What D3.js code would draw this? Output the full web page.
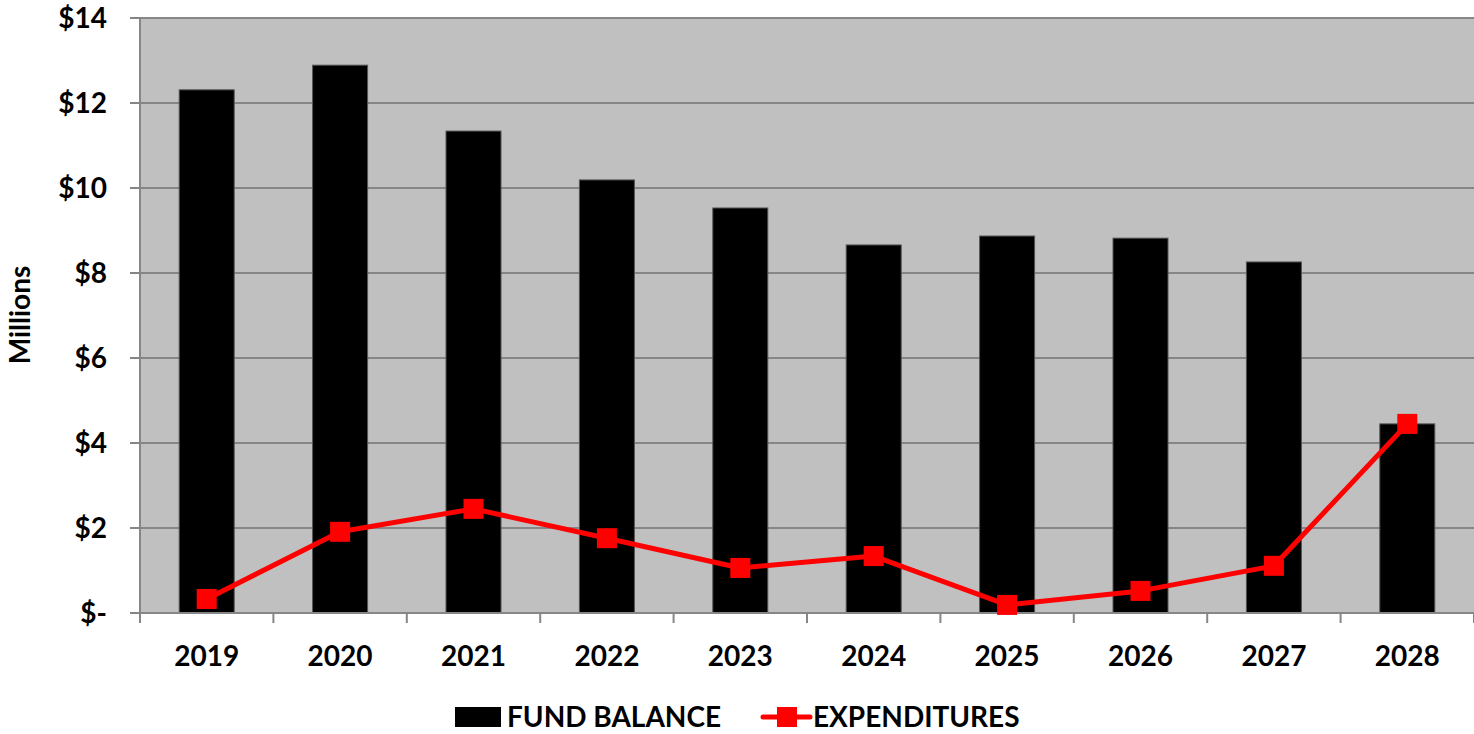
<!DOCTYPE html>
<html>
<head>
<meta charset="utf-8">
<script src="https://cdn.jsdelivr.net/npm/d3@7"></script>
<style>
  body { margin: 0; background: #fff; }
  text { font-family: Lato, "Open Sans", sans-serif; font-weight: bold; fill: #000; }
</style>
</head>
<body>
<div id="chart"></div>
<script>
// data (millions)
var years = ["2019", "2020", "2021", "2022", "2023", "2024", "2025", "2026", "2027", "2028"];
var fundBalance = [12.31, 12.89, 11.34, 10.19, 9.53, 8.66, 8.87, 8.82, 8.26, 4.45];
var expenditures = [0.33, 1.91, 2.45, 1.76, 1.06, 1.34, 0.19, 0.52, 1.11, 4.45];
var yTicks = [0, 2, 4, 6, 8, 10, 12, 14];

var margin = {top: 18, right: 0, bottom: 121, left: 140},
    width = 1474 - margin.left - margin.right,
    height = 734 - margin.top - margin.bottom;

var svg = d3.select("#chart")
    .append("svg")
    .attr("width", 1474)
    .attr("height", 734)
    .append("g")
    .attr("transform", "translate(" + margin.left + "," + margin.top + ")");

var x = d3.scaleBand()
    .domain(years)
    .range([0, width])
    .paddingInner(0)
    .paddingOuter(0);

var y = d3.scaleLinear()
    .domain([0, 14])
    .range([height, 0]);

// plot background
svg.append("rect")
    .attr("width", width)
    .attr("height", height)
    .attr("fill", "#c0c0c0");

// gridlines
svg.selectAll(".grid")
    .data(yTicks)
    .enter()
    .append("line")
    .attr("x1", -10)
    .attr("x2", width)
    .attr("y1", function(d) { return y(d); })
    .attr("y2", function(d) { return y(d); })
    .attr("stroke", "#868686")
    .attr("stroke-width", 2);

// left axis line
svg.append("line")
    .attr("x1", 0).attr("x2", 0)
    .attr("y1", 0).attr("y2", height)
    .attr("stroke", "#868686")
    .attr("stroke-width", 2);

// y labels
svg.selectAll(".ylab")
    .data(yTicks)
    .enter()
    .append("text")
    .attr("x", -33)
    .attr("y", function(d) { return y(d); })
    .attr("dy", "0.36em")
    .style("text-anchor", "end")
    .style("font-size", "28px")
    .text(function(d) { return d === 0 ? "$-" : "$" + d; });

// bars
var bw = 55;
svg.selectAll(".bar")
    .data(years)
    .enter()
    .append("rect")
    .attr("x", function(d) { return x(d) + x.bandwidth() / 2 - bw / 2; })
    .attr("y", function(d, i) { return y(fundBalance[i]); })
    .attr("width", bw)
    .attr("height", function(d, i) { return height - y(fundBalance[i]); })
    .attr("fill", "#000")
    .attr("stroke", "#555")
    .attr("stroke-width", 1);

// x axis
svg.append("line")
    .attr("x1", 0).attr("x2", width)
    .attr("y1", height).attr("y2", height)
    .attr("stroke", "#868686")
    .attr("stroke-width", 2);

var xTickPos = years.map(function(d) { return x(d); }).concat([width]);
svg.selectAll(".xtick")
    .data(xTickPos)
    .enter()
    .append("line")
    .attr("x1", function(d) { return d; })
    .attr("x2", function(d) { return d; })
    .attr("y1", height)
    .attr("y2", height + 10)
    .attr("stroke", "#868686")
    .attr("stroke-width", 2);

svg.selectAll(".xlab")
    .data(years)
    .enter()
    .append("text")
    .attr("x", function(d) { return x(d) + x.bandwidth() / 2; })
    .attr("y", height + 53)
    .style("text-anchor", "middle")
    .style("font-size", "28px")
    .text(function(d) { return d; });

// expenditures line
var line = d3.line()
    .x(function(d, i) { return x(years[i]) + x.bandwidth() / 2; })
    .y(function(d) { return y(d); });

svg.append("path")
    .datum(expenditures)
    .attr("d", line)
    .attr("fill", "none")
    .attr("stroke", "#ff0000")
    .attr("stroke-width", 5)
    .attr("stroke-linejoin", "round");

var ms = 20;
svg.selectAll(".marker")
    .data(expenditures)
    .enter()
    .append("rect")
    .attr("x", function(d, i) { return x(years[i]) + x.bandwidth() / 2 - ms / 2; })
    .attr("y", function(d) { return y(d) - ms / 2; })
    .attr("width", ms)
    .attr("height", ms)
    .attr("fill", "#ff0000");

// y axis title
svg.append("text")
    .attr("transform", "rotate(-90)")
    .attr("x", -297)
    .attr("y", -110)
    .style("text-anchor", "middle")
    .style("font-size", "28px")
    .text("Millions");

// legend
var root = d3.select("svg");
root.append("rect")
    .attr("x", 455).attr("y", 707)
    .attr("width", 46).attr("height", 20)
    .attr("fill", "#000");
root.append("text")
    .attr("x", 507).attr("y", 727)
    .style("font-size", "28px")
    .text("FUND BALANCE");

root.append("line")
    .attr("x1", 763).attr("x2", 810)
    .attr("y1", 717).attr("y2", 717)
    .attr("stroke", "#ff0000")
    .attr("stroke-width", 5)
    .attr("stroke-linecap", "round");
root.append("rect")
    .attr("x", 777).attr("y", 707)
    .attr("width", 20).attr("height", 20)
    .attr("fill", "#ff0000");
root.append("text")
    .attr("x", 813).attr("y", 727)
    .style("font-size", "28px")
    .text("EXPENDITURES");
</script>
</body>
</html>
